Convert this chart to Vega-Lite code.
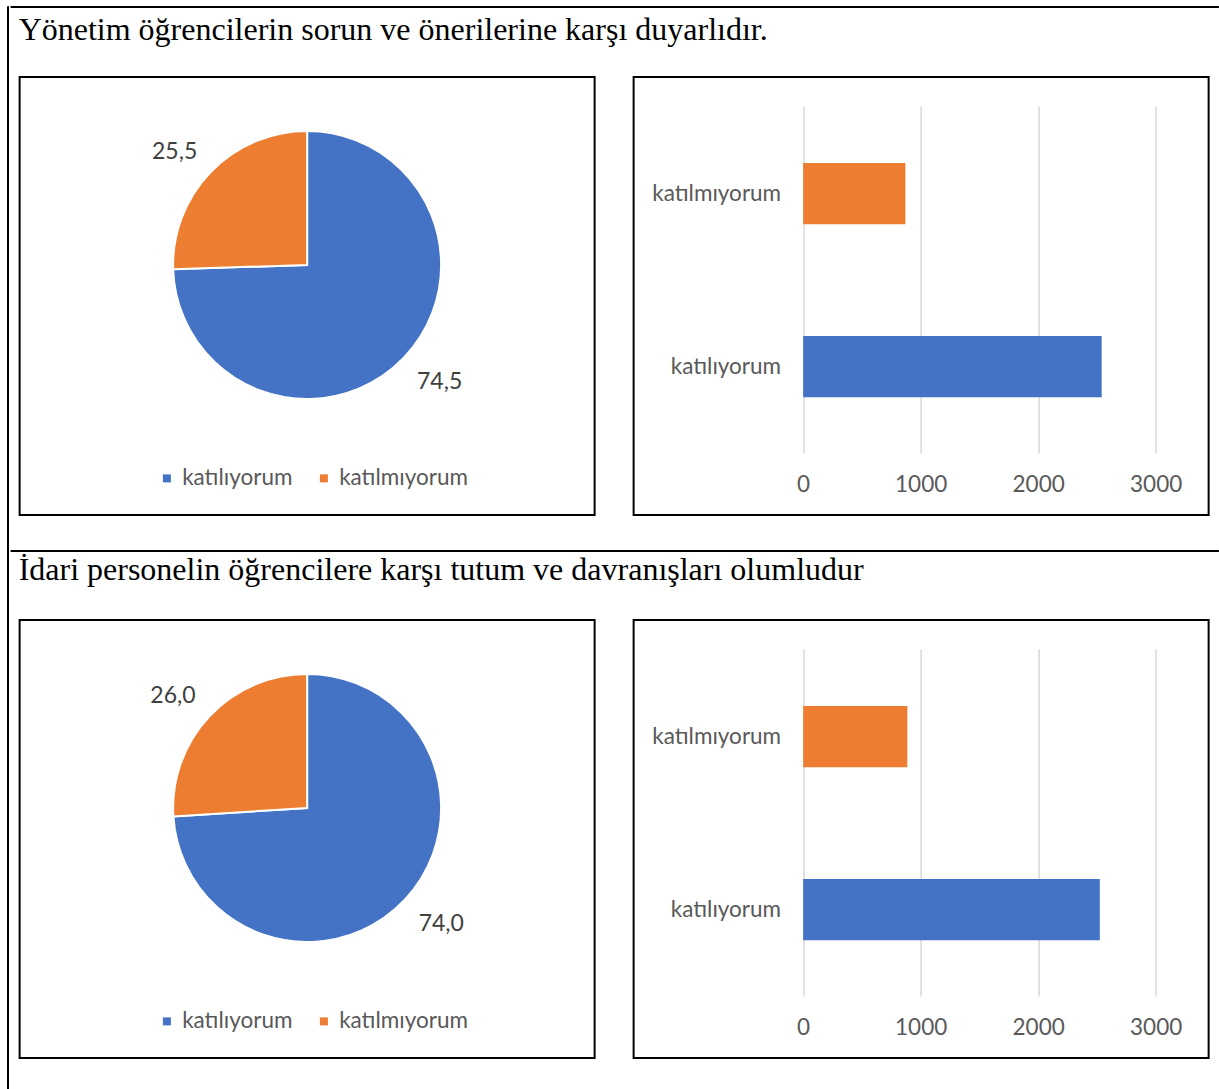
{
  "$schema": "https://vega.github.io/schema/vega-lite/v6.json",
  "padding": {"left": 6, "top": 5, "right": 0, "bottom": 0},
  "background": "white",
  "config": {
    "locale": {"number": {"decimal": ",", "thousands": ".", "grouping": [3], "currency": ["", " TL"]}},
    "view": {"stroke": null},
    "font": "Lato",
    "title": {"font": "Liberation Serif", "fontSize": 32, "fontWeight": "normal", "color": "black", "anchor": "start"}
  },
  "datasets": {
    "s1": [
      {"cat": "katılıyorum", "n": 2541, "pct": 74.5},
      {"cat": "katılmıyorum", "n": 870, "pct": 25.5}
    ],
    "s2": [
      {"cat": "katılıyorum", "n": 2525, "pct": 74.0},
      {"cat": "katılmıyorum", "n": 887, "pct": 26.0}
    ],
    "none": []
  },
  "spacing": 0,
  "hconcat": [
    {"width": 1, "height": 1100, "data": {"name": "none"}, "mark": "rule", "encoding": {}, "view": {"stroke": "black", "strokeWidth": 1}},
    {
      "spacing": 33,
      "center": true,
      "vconcat": [
        {
          "spacing": 6,
          "center": true,
          "vconcat": [
            {"width": 1208, "height": 1, "data": {"name": "none"}, "mark": "rule", "encoding": {}, "view": {"stroke": "black", "strokeWidth": 1}},
            {
              "title": {"text": "Yönetim öğrencilerin sorun ve önerilerine karşı duyarlıdır.", "offset": 29},
              "spacing": 37,
              "resolve": {"scale": {"color": "independent"}},
              "hconcat": [
                {
                  "width": 575, "height": 438,
                  "view": {"stroke": "black", "strokeWidth": 2},
                  "data": {"name": "s1"},
                  "encoding": {
                    "theta": {"field": "pct", "type": "quantitative", "stack": true},
                    "order": {"field": "cat", "type": "nominal", "sort": "descending"},
                    "color": {"field": "cat", "type": "nominal", "scale": {"domain": ["katılıyorum", "katılmıyorum"], "range": ["#4472C4", "#ED7D31"]},
                      "legend": {"orient": "none", "legendX": 136, "legendY": 390, "direction": "horizontal", "title": null, "symbolType": "square", "symbolSize": 64, "symbolStrokeWidth": 0, "labelFontSize": 22.5, "labelColor": "#595959", "labelFont": "Lato", "columnPadding": 20, "labelOffset": 4}}
                  },
                  "layer": [
                    {"mark": {"type": "arc", "outerRadius": 134, "yOffset": -31, "stroke": "white", "strokeWidth": 2}},
                    {"mark": {"type": "text", "radius": 153, "yOffset": -31, "fontSize": 23, "font": "Lato",
                       "align": {"expr": "datum.cat == 'katılmıyorum' ? 'right' : 'left'"},
                       "baseline": {"expr": "datum.cat == 'katılmıyorum' ? 'alphabetic' : 'top'"}},
                     "encoding": {"text": {"field": "pct", "type": "quantitative", "format": ".1f"}, "color": {"value": "#404040"}}}
                  ]
                },
                {
                  "width": 575, "height": 438,
                  "view": {"stroke": "black", "strokeWidth": 2},
                  "data": {"name": "s1"},
                  "mark": {"type": "bar"},
                  "encoding": {
                    "y": {"field": "cat", "type": "nominal", "sort": ["katılıyorum", "katılmıyorum"],
                      "scale": {"range": [409, 62], "paddingInner": 0.647, "paddingOuter": 0.326, "align": 0.213},
                      "axis": {"title": null, "offset": -147, "ticks": false, "domain": false, "labelPadding": 0, "labelFontSize": 22.5, "labelColor": "#595959", "labelFont": "Lato", "grid": false}},
                    "x": {"field": "n", "type": "quantitative",
                      "scale": {"domain": [0, 3000], "range": [169.5, 522], "nice": false},
                      "axis": {"title": null, "values": [0, 1000, 2000, 3000], "format": "d", "offset": -47, "ticks": false, "domain": false, "labelFlush": false, "labelPadding": 5, "labelFontSize": 22.5, "labelColor": "#595959", "labelFont": "Lato", "grid": true, "gridColor": "#d9d9d9", "gridWidth": 1.5}},
                    "color": {"field": "cat", "type": "nominal", "scale": {"domain": ["katılıyorum", "katılmıyorum"], "range": ["#4472C4", "#ED7D31"]}, "legend": null}
                  }
                }
              ]
            }
          ]
        },
        {
          "spacing": 2,
          "center": true,
          "vconcat": [
            {"width": 1208, "height": 1, "data": {"name": "none"}, "mark": "rule", "encoding": {}, "view": {"stroke": "black", "strokeWidth": 1}},
            {
              "title": {"text": "İdari personelin öğrencilere karşı tutum ve davranışları olumludur", "offset": 32},
              "spacing": 37,
              "resolve": {"scale": {"color": "independent"}},
              "hconcat": [
                {
                  "width": 575, "height": 438,
                  "view": {"stroke": "black", "strokeWidth": 2},
                  "data": {"name": "s2"},
                  "encoding": {
                    "theta": {"field": "pct", "type": "quantitative", "stack": true},
                    "order": {"field": "cat", "type": "nominal", "sort": "descending"},
                    "color": {"field": "cat", "type": "nominal", "scale": {"domain": ["katılıyorum", "katılmıyorum"], "range": ["#4472C4", "#ED7D31"]},
                      "legend": {"orient": "none", "legendX": 136, "legendY": 390, "direction": "horizontal", "title": null, "symbolType": "square", "symbolSize": 64, "symbolStrokeWidth": 0, "labelFontSize": 22.5, "labelColor": "#595959", "labelFont": "Lato", "columnPadding": 20, "labelOffset": 4}}
                  },
                  "layer": [
                    {"mark": {"type": "arc", "outerRadius": 134, "yOffset": -31, "stroke": "white", "strokeWidth": 2}},
                    {"mark": {"type": "text", "radius": 153, "yOffset": -31, "fontSize": 23, "font": "Lato",
                       "align": {"expr": "datum.cat == 'katılmıyorum' ? 'right' : 'left'"},
                       "baseline": {"expr": "datum.cat == 'katılmıyorum' ? 'alphabetic' : 'top'"}},
                     "encoding": {"text": {"field": "pct", "type": "quantitative", "format": ".1f"}, "color": {"value": "#404040"}}}
                  ]
                },
                {
                  "width": 575, "height": 438,
                  "view": {"stroke": "black", "strokeWidth": 2},
                  "data": {"name": "s2"},
                  "mark": {"type": "bar"},
                  "encoding": {
                    "y": {"field": "cat", "type": "nominal", "sort": ["katılıyorum", "katılmıyorum"],
                      "scale": {"range": [409, 62], "paddingInner": 0.647, "paddingOuter": 0.326, "align": 0.213},
                      "axis": {"title": null, "offset": -147, "ticks": false, "domain": false, "labelPadding": 0, "labelFontSize": 22.5, "labelColor": "#595959", "labelFont": "Lato", "grid": false}},
                    "x": {"field": "n", "type": "quantitative",
                      "scale": {"domain": [0, 3000], "range": [169.5, 522], "nice": false},
                      "axis": {"title": null, "values": [0, 1000, 2000, 3000], "format": "d", "offset": -47, "ticks": false, "domain": false, "labelFlush": false, "labelPadding": 5, "labelFontSize": 22.5, "labelColor": "#595959", "labelFont": "Lato", "grid": true, "gridColor": "#d9d9d9", "gridWidth": 1.5}},
                    "color": {"field": "cat", "type": "nominal", "scale": {"domain": ["katılıyorum", "katılmıyorum"], "range": ["#4472C4", "#ED7D31"]}, "legend": null}
                  }
                }
              ]
            }
          ]
        }
      ]
    },
    {"width": 1, "height": 1100, "data": {"name": "none"}, "mark": "rule", "encoding": {}, "view": {"stroke": "black", "strokeWidth": 1}}
  ]
}
